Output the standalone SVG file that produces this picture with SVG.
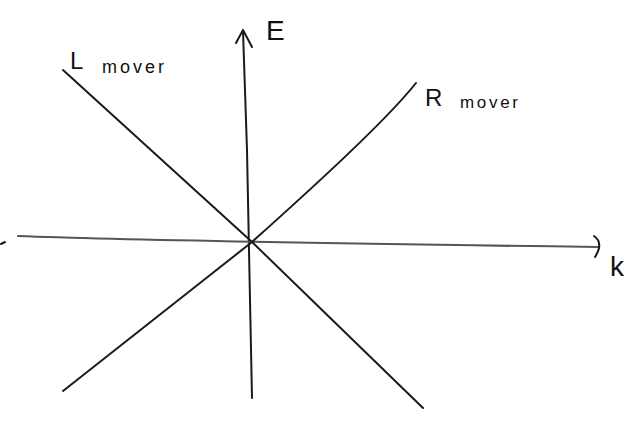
<svg xmlns="http://www.w3.org/2000/svg" width="637" height="424" viewBox="0 0 637 424">
<style>
.ln{fill:none;stroke:#1a1a1a;stroke-width:2;stroke-linecap:round;stroke-linejoin:round}
.ax{fill:none;stroke:#555;stroke-width:2.2;stroke-linecap:round}
.t{font-family:"Liberation Sans",Arial,sans-serif;fill:#111}
</style>
<rect width="637" height="424" fill="#fff"/>
<g id="axes">
<path class="ln" d="M252,398 L250,300 L247,150 L243,31"/>
<path class="ln" d="M236,43 L243,30 L252,47"/>
<path class="ax" d="M18,236 C120,240 300,243 598,247"/>
<path class="ln" d="M594,236 Q604,243 595,257"/>
<path class="ln" d="M1,244 L5,242"/>
</g>
<g id="lines">
<path class="ln" d="M63,70 L252,242 L423,408"/>
<path class="ln" d="M416,83 C385,122 310,190 252,242 L200,283 L63,391"/>
</g>
<g id="label-E"><text class="t" x="266" y="40" font-size="28">E</text></g>
<g id="label-k"><text class="t" x="610" y="276" font-size="28">k</text></g>
<g id="label-L"><text class="t" x="70" y="69" font-size="24">L</text><text class="t" x="102" y="73" font-size="18" textLength="62">mover</text></g>
<g id="label-R"><text class="t" x="425" y="106" font-size="24">R</text><text class="t" x="460" y="108" font-size="17" textLength="58">mover</text></g>
</svg>
